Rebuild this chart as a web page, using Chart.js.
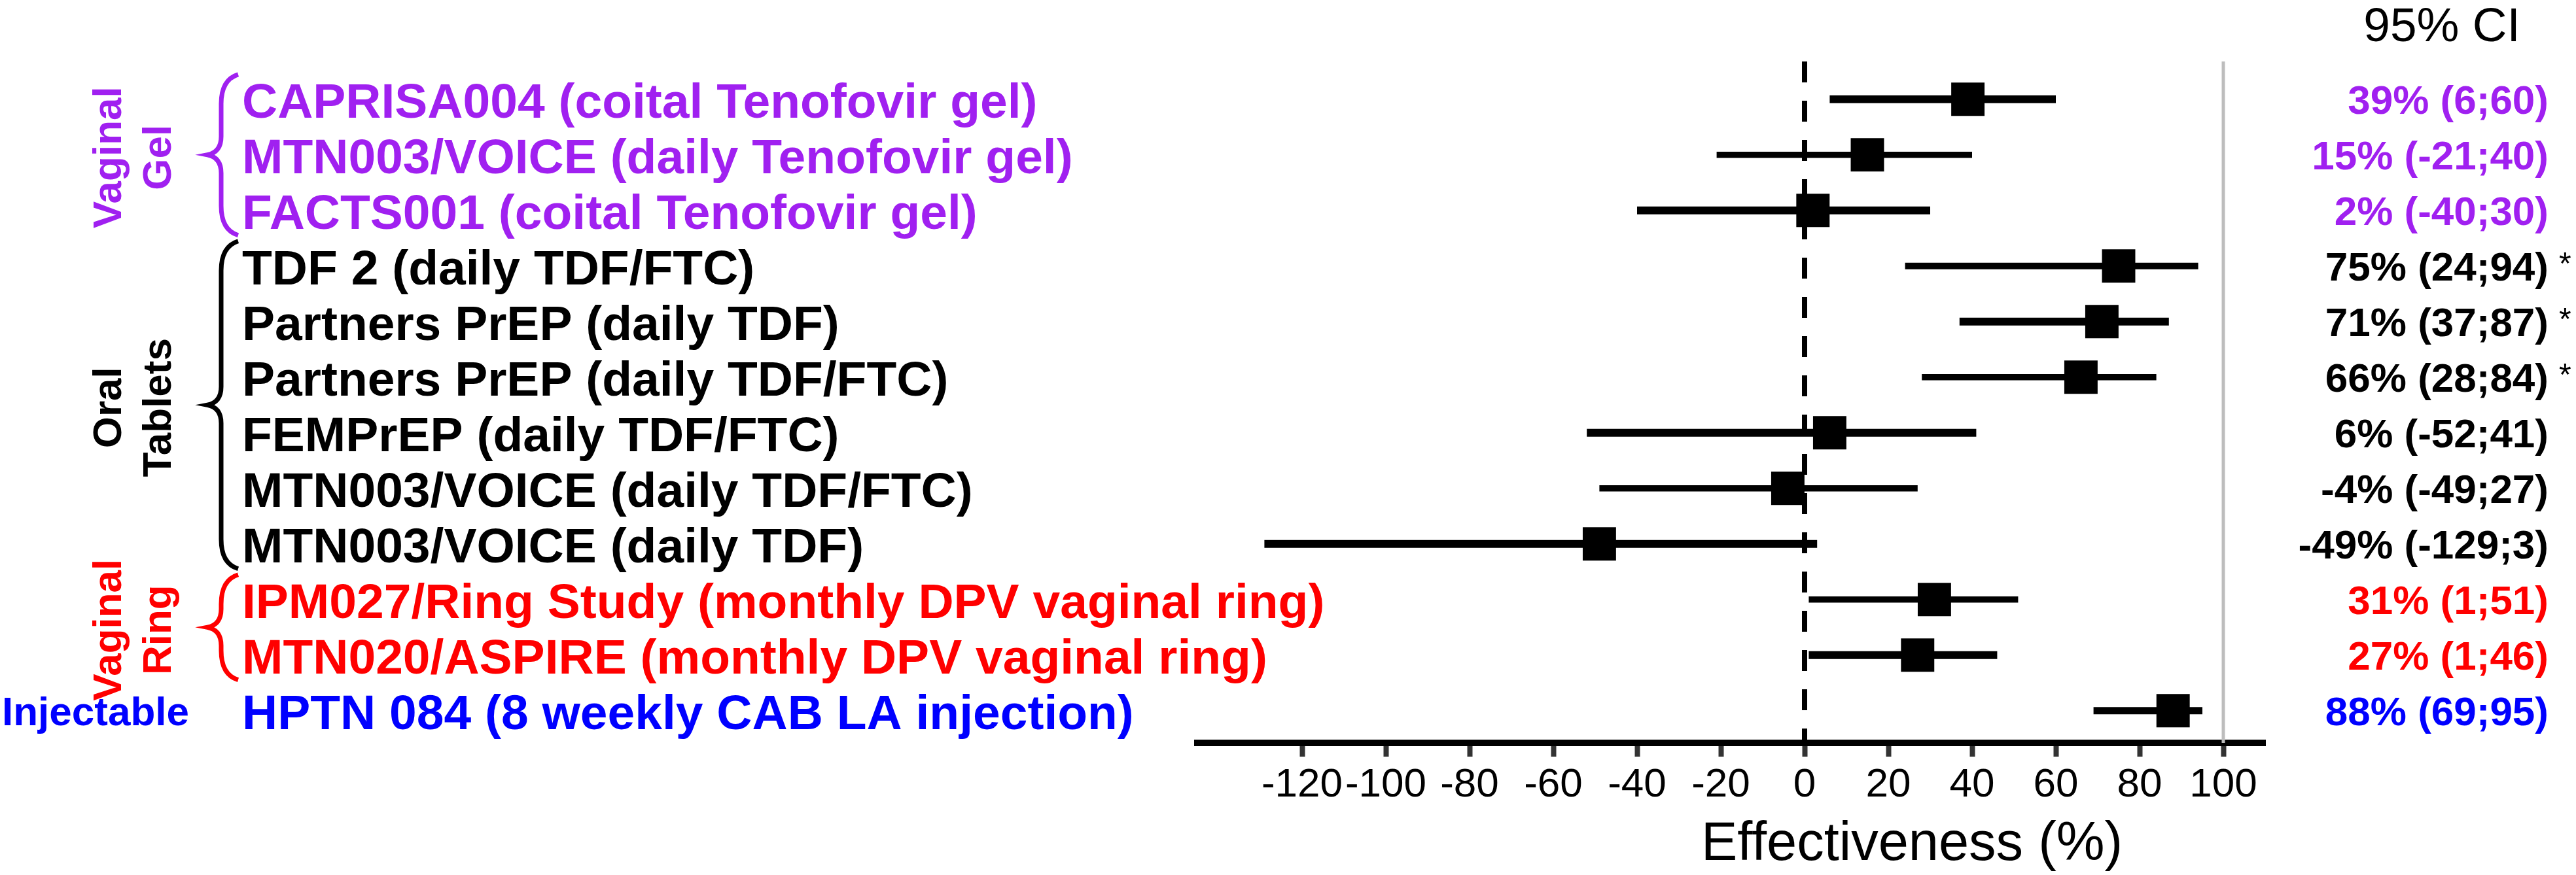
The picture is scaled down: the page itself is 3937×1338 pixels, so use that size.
<!DOCTYPE html>
<html>
<head>
<meta charset="utf-8">
<script src="https://cdn.jsdelivr.net/npm/chart.js@4.4.1/dist/chart.umd.min.js"></script>
<style>
  html, body { margin: 0; padding: 0; background: #fff; }
  #wrap { width: 3937px; height: 1338px; position: relative; }
</style>
</head>
<body>
<div id="wrap"><canvas id="forest"></canvas></div>
<script>
// one row per trial, top to bottom
const studies = [
  "CAPRISA004 (coital Tenofovir gel)",
  "MTN003/VOICE (daily Tenofovir gel)",
  "FACTS001 (coital Tenofovir gel)",
  "TDF 2 (daily TDF/FTC)",
  "Partners PrEP (daily TDF)",
  "Partners PrEP (daily TDF/FTC)",
  "FEMPrEP (daily TDF/FTC)",
  "MTN003/VOICE (daily TDF/FTC)",
  "MTN003/VOICE (daily TDF)",
  "IPM027/Ring Study (monthly DPV vaginal ring)",
  "MTN020/ASPIRE (monthly DPV vaginal ring)",
  "HPTN 084 (8 weekly CAB LA injection)"
]
const effect = [39, 15, 2, 75, 71, 66, 6, -4, -49, 31, 27, 88]
const ciLow = [6, -21, -40, 24, 37, 28, -52, -49, -129, 1, 1, 69]
const ciHigh = [60, 40, 30, 94, 87, 84, 41, 27, 3, 51, 46, 95]
const starred = [false, false, false, true, true, true, false, false, false, false, false, false]

const groupNames = [["Vaginal", "Gel"], ["Oral", "Tablets"], ["Vaginal", "Ring"], ["Injectable"]]
const groupFirst = [0, 3, 9, 11]
const groupLast = [2, 8, 10, 11]
const groupColors = ["#a020f0", "#000000", "#ff0000", "#0000ff"]

const xTicks = [-120, -100, -80, -60, -40, -20, 0, 20, 40, 60, 80, 100]

const FONT = "'Liberation Sans', Arial, sans-serif"
const lineWidths = [12, 9.5, 12, 10, 12, 9.5, 12, 9.5, 12, 9.5, 12, 11]
const Y_TOP = -0.68
const Y_BOTTOM = 11.58

function rowColor(i) {
  const g = groupFirst.findIndex((f, k) => i >= f && i <= groupLast[k])
  return groupColors[g]
}

const datasets = []
// markers first so they are drawn on top
datasets.push({
  data: effect.map((v, i) => ({ x: v, y: i })),
  pointStyle: "rect",
  pointRadius: 36,
  backgroundColor: "#000",
  borderColor: "#000",
  borderWidth: 0,
  order: 0
})
studies.forEach((s, i) => {
  datasets.push({
    data: [{ x: ciLow[i], y: i }, { x: ciHigh[i], y: i }],
    showLine: true,
    pointRadius: 0,
    borderColor: "#000",
    borderWidth: lineWidths[i],
    order: 1
  })
})
// no-effect line and 100% line
datasets.push({
  data: [{ x: 0, y: Y_TOP }, { x: 0, y: Y_BOTTOM }],
  showLine: true, pointRadius: 0,
  borderColor: "#000", borderWidth: 8, borderDash: [32, 28],
  order: 2
})
datasets.push({
  data: [{ x: 100, y: Y_TOP }, { x: 100, y: Y_BOTTOM }],
  showLine: true, pointRadius: 0,
  borderColor: "#bdbdbd", borderWidth: 5,
  order: 2
})

function drawBrace(ctx, x, top, bottom, color) {
  const mid = (top + bottom) / 2
  const spine = x + 21
  const end = x + 47
  ctx.strokeStyle = color
  ctx.lineWidth = 7
  ctx.beginPath()
  ctx.moveTo(end, top)
  ctx.quadraticCurveTo(spine, top + 8, spine, top + 45)
  ctx.lineTo(spine, mid - 28)
  ctx.quadraticCurveTo(spine, mid - 4, x, mid)
  ctx.quadraticCurveTo(spine, mid + 4, spine, mid + 28)
  ctx.lineTo(spine, bottom - 45)
  ctx.quadraticCurveTo(spine, bottom - 8, end, bottom)
  ctx.stroke()
}

const annotate = {
  id: "annotate",
  afterDraw(chart) {
    const ctx = chart.ctx
    const y = chart.scales.y
    ctx.save()

    // study names
    ctx.font = "bold 75px " + FONT
    ctx.textAlign = "left"
    ctx.textBaseline = "alphabetic"
    studies.forEach((s, i) => {
      ctx.fillStyle = rowColor(i)
      ctx.fillText(s, 370, y.getPixelForValue(i) + 28)
    })

    // effectiveness and CI column
    ctx.font = "bold 62px " + FONT
    ctx.textAlign = "right"
    studies.forEach((s, i) => {
      ctx.fillStyle = rowColor(i)
      ctx.fillText(effect[i] + "% (" + ciLow[i] + ";" + ciHigh[i] + ")", 3895, y.getPixelForValue(i) + 22)
      if (starred[i]) {
        ctx.font = "48px " + FONT
        ctx.textAlign = "left"
        ctx.fillText("*", 3911, y.getPixelForValue(i) + 12)
        ctx.font = "bold 62px " + FONT
        ctx.textAlign = "right"
      }
    })

    ctx.fillStyle = "#000"
    ctx.font = "73px " + FONT
    ctx.textAlign = "center"
    ctx.fillText("95% CI", 3732, 63)

    // axis title
    ctx.font = "83px " + FONT
    ctx.textAlign = "left"
    ctx.fillText("Effectiveness (%)", 2600, 1315)

    // group labels and braces
    groupNames.forEach((names, g) => {
      const top = y.getPixelForValue(groupFirst[g])
      const bottom = y.getPixelForValue(groupLast[g])
      const mid = (top + bottom) / 2
      ctx.fillStyle = groupColors[g]
      if (names.length === 1) {
        ctx.font = "bold 62px " + FONT
        ctx.textAlign = "center"
        ctx.textBaseline = "alphabetic"
        ctx.fillText(names[0], 146, mid + 22)
        return
      }
      drawBrace(ctx, 317, top - 38, bottom + 38, groupColors[g])
      ctx.font = "bold 62px " + FONT
      ctx.textAlign = "center"
      ctx.textBaseline = "middle"
      names.forEach((n, k) => {
        ctx.save()
        ctx.translate(206, mid + 4)
        ctx.rotate(-Math.PI / 2)
        ctx.fillText(n, 0, (k === 0 ? -38 : 38))
        ctx.restore()
      })
    })
    ctx.restore()
  }
}

new Chart(document.getElementById("forest"), {
  type: "scatter",
  data: { datasets },
  options: {
    responsive: true,
    maintainAspectRatio: false,
    animation: false,
    devicePixelRatio: 1,
    layout: { padding: { left: 1830, right: 475, top: 94, bottom: 0 } },
    plugins: { legend: { display: false }, tooltip: { enabled: false } },
    scales: {
      x: {
        type: "linear",
        min: -145,
        max: 110,
        afterBuildTicks: s => { s.ticks = xTicks.map(v => ({ value: v })) },
        afterFit: s => { s.height = 202 },
        ticks: {
          font: { family: FONT, size: 62 },
          color: "#000",
          padding: 7,
          maxRotation: 0,
          autoSkip: false
        },
        grid: { drawOnChartArea: false, drawTicks: true, tickLength: 21, tickWidth: 8, tickColor: "#333" },
        border: { display: true, width: 10, color: "#000" }
      },
      y: { type: "linear", reverse: true, min: Y_TOP, max: Y_BOTTOM, display: false }
    }
  },
  plugins: [annotate]
})
</script>
</body>
</html>
